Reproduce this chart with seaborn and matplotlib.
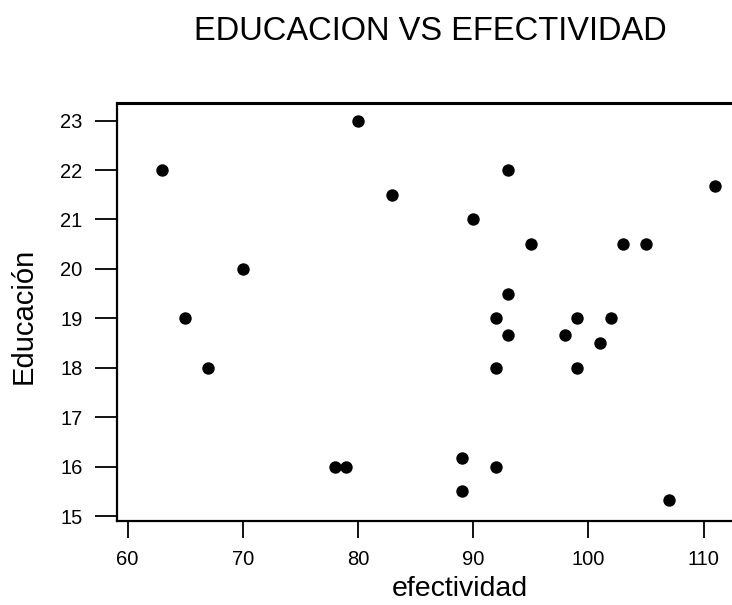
import matplotlib
matplotlib.use("Agg")
import matplotlib.pyplot as plt
import seaborn as sns
import pandas as pd

# Effectiveness vs. years of education, one point per person
efectividad = [80, 63, 83, 70, 65, 93, 111, 90, 95, 103, 105, 93, 92, 99,
               102, 93, 98, 101, 92, 99, 89, 92, 89, 107, 67, 78, 79]
educacion = [23, 22, 21.5, 20, 19, 22, 21.67, 21, 20.5, 20.5, 20.5, 19.5, 19, 19,
             19, 18.67, 18.67, 18.5, 18, 18, 16.17, 16, 15.5, 15.33, 18, 16, 16]

x_ticks = [60, 70, 80, 90, 100, 110]
y_ticks = [15, 16, 17, 18, 19, 20, 21, 22, 23]

df = pd.DataFrame({"efectividad": efectividad, "Educación": educacion})

sns.set_style("ticks")
plt.rcParams["font.family"] = ["Liberation Sans", "DejaVu Sans"]

W, H = 732, 605
fig = plt.figure(figsize=(W / 100, H / 100), dpi=100)

# plot box: left/bottom/top in pixels; right edge runs past the figure
left_px, bottom_px, top_px = 116.7, 520.7, 103.3
xlim = (59.06, 113.5)
ylim = (14.905, 23.35)
px_per_x = 11.52
width_px = (xlim[1] - xlim[0]) * px_per_x
ax = fig.add_axes([left_px / W, (H - bottom_px) / H,
                   width_px / W, (bottom_px - top_px) / H])

sns.scatterplot(data=df, x="efectividad", y="Educación", ax=ax,
                color="black", s=80, linewidth=0, legend=False)

ax.set_xlim(*xlim)
ax.set_ylim(*ylim)
ax.set_xticks(x_ticks)
ax.set_yticks(y_ticks)
ax.set_xticklabels([str(v) for v in x_ticks])
ax.set_yticklabels([str(v) for v in y_ticks])

for side in ["left", "bottom", "top", "right"]:
    ax.spines[side].set_linewidth(1.6)
    ax.spines[side].set_color("black")
ax.spines["top"].set_linewidth(2.2)

ax.tick_params(axis="y", direction="out", length=15.5, width=1.3,
               pad=9, labelsize=14.5, colors="black")
ax.tick_params(axis="x", direction="out", length=12, width=1.3,
               pad=9, labelsize=14.5, colors="black")

ax.set_xlabel("efectividad", fontsize=20.5, color="black")
ax.set_ylabel("Educación", fontsize=21, color="black")
ax.xaxis.set_label_coords((460 - left_px) / width_px, -(576 - bottom_px) / (bottom_px - top_px))
ax.yaxis.set_label_coords((38 - left_px) / width_px, (bottom_px - 316) / (bottom_px - top_px))

fig.text(430 / W, (H - 40) / H, "EDUCACION VS EFECTIVIDAD",
         ha="center", va="baseline", fontsize=23.5, color="black")

fig.savefig("out.png", dpi=100)
